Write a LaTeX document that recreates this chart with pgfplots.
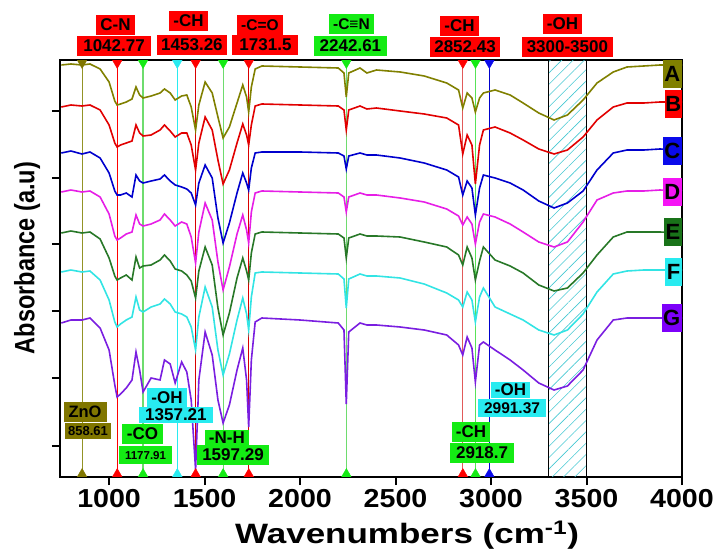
\documentclass[border=0pt]{standalone}
\usepackage{fontspec}
\setmainfont{Liberation Sans}
\usepackage{pgfplots}
\pgfplotsset{compat=1.18}
\usetikzlibrary{patterns.meta}
\definecolor{cA}{RGB}{128,128,0}
\definecolor{cB}{RGB}{225,0,0}
\definecolor{cC}{RGB}{0,0,205}
\definecolor{cD}{RGB}{230,30,230}
\definecolor{cE}{RGB}{40,120,40}
\definecolor{cF}{RGB}{50,228,228}
\definecolor{cG}{RGB}{122,30,224}
\definecolor{bOlive}{RGB}{128,118,0}
\definecolor{bRed}{RGB}{255,0,0}
\definecolor{bGreen}{RGB}{20,235,20}
\definecolor{bCyan}{RGB}{40,235,240}
\definecolor{bBlue}{RGB}{10,10,235}
\definecolor{bMag}{RGB}{245,20,245}
\definecolor{bDGreen}{RGB}{25,115,25}
\definecolor{bViolet}{RGB}{125,0,250}
\definecolor{lGreen}{RGB}{110,220,110}
\definecolor{lRed}{RGB}{225,90,90}
\definecolor{hatchc}{RGB}{70,200,210}
\begin{document}
\begin{tikzpicture}
\begin{axis}[
  scale only axis, width=622pt, height=417pt,
  xmin=743, xmax=4000, ymin=0, ymax=417,
  xtick={1000,1500,2000,2500,3000,3500,4000},
  ytick={31,99,166,233,299,366}, yticklabels={},
  tick align=outside, xtick pos=bottom, ytick pos=left,
  major tick length=8pt,
  axis line style={line width=2.2pt},
  every tick/.style={line width=2pt, black},
  clip=false,
  /pgf/number format/assume math mode=true,
  /pgf/number format/1000 sep={},
  xticklabel={\scalebox{1.1}[1]{\pgfmathprintnumber{\tick}}},
  xticklabel style={font=\bfseries\fontsize{26}{26}\selectfont, yshift=-1pt},
  xlabel={\bfseries\fontsize{28}{28}\selectfont\scalebox{1.25}[1]{Wavenumbers (cm\textsuperscript{-1})}},
  xlabel style={at={(axis description cs:0.558,-0.139)}, anchor=center},
  ylabel={\bfseries\fontsize{28}{28}\selectfont\scalebox{0.84}[1]{Absorbance (a.u)}},
  ylabel style={at={(axis description cs:-0.053,0.525)}, anchor=center, rotate=0},
]
% hatched OH region
\addplot[draw=black, line width=1pt, pattern={Lines[angle=45, distance=8pt, line width=0.6pt]}, pattern color=hatchc]
  coordinates {(3300,0) (3300,417) (3500,417) (3500,0)} \closedcycle;
% vertical marker lines
\addplot[cA!85!white, line width=0.9pt] coordinates {(858.61,0) (858.61,417)};
\addplot[bRed, line width=1.2pt] coordinates {(1042.77,0) (1042.77,417)};
\addplot[lGreen, line width=1.2pt] coordinates {(1177.91,0) (1177.91,417)};
\addplot[bCyan, line width=1.2pt] coordinates {(1357.21,0) (1357.21,417)};
\addplot[bRed!85!black, line width=1.2pt] coordinates {(1453.26,0) (1453.26,417)};
\addplot[lGreen, line width=1.2pt] coordinates {(1597.29,0) (1597.29,417)};
\addplot[bRed!85!black, line width=1.2pt] coordinates {(1731.5,0) (1731.5,417)};
\addplot[lGreen, line width=1.2pt] coordinates {(2242.61,0) (2242.61,417)};
\addplot[lRed, line width=1.2pt] coordinates {(2852.43,0) (2852.43,417)};
\addplot[lGreen!80!green, line width=1.2pt] coordinates {(2918.7,0) (2918.7,417)};
\addplot[cC, line width=1.2pt] coordinates {(2991.37,0) (2991.37,417)};
% spectra
\addplot[cA, line width=1.6pt] coordinates {
(750,412) (800,413) (858,412) (900,413) (953,408) (1000,395) (1030,376) (1042,372) (1060,373) (1090,375) (1120,378) (1141,390) (1160,382) (1178,379) (1220,381) (1267,384) (1290,388) (1320,384) (1346,377) (1380,381) (1407,382) (1430,370) (1453,347) (1470,372) (1503,395) (1540,384) (1570,360) (1597,339) (1630,350) (1670,374) (1700,392) (1720,380) (1731,365) (1745,390) (1765,408) (1800,411) (2000,410) (2200,409) (2230,404) (2242,380) (2255,404) (2314,409) (2350,404) (2400,407) (2524,405) (2650,401) (2768,394) (2830,387) (2852,369) (2875,384) (2900,379) (2918,365) (2940,379) (2960,384) (3021,387) (3100,382) (3168,374) (3250,364) (3330,357) (3400,362) (3482,377) (3555,394) (3640,405) (3712,410) (3800,411) (3885,412) (4000,412)};
\addplot[cB, line width=1.6pt] coordinates {
(750,370) (800,372) (858,371) (900,372) (953,367) (1000,352) (1030,334) (1042,330) (1060,332) (1090,334) (1120,336) (1141,352) (1160,344) (1178,341) (1220,342) (1267,347) (1290,352) (1320,346) (1346,340) (1380,344) (1407,344) (1430,332) (1453,307) (1470,334) (1503,360) (1540,347) (1570,317) (1597,293) (1630,307) (1670,334) (1700,353) (1720,342) (1731,332) (1745,352) (1765,371) (1800,373) (2000,372) (2200,371) (2230,367) (2242,347) (2255,367) (2314,371) (2350,368) (2400,369) (2524,366) (2650,363) (2768,359) (2830,352) (2852,323) (2875,342) (2900,332) (2918,293) (2940,332) (2960,347) (3021,350) (3100,344) (3168,337) (3250,328) (3330,323) (3400,327) (3482,340) (3555,357) (3640,370) (3712,374) (3800,374) (3885,375) (4000,375)};
\addplot[cC, line width=1.6pt] coordinates {
(750,324) (800,326) (858,323) (900,325) (953,319) (1000,304) (1030,286) (1042,282) (1060,282) (1090,284) (1120,280) (1141,302) (1160,296) (1178,294) (1220,296) (1267,298) (1290,302) (1320,296) (1346,292) (1380,290) (1407,288) (1430,284) (1453,272) (1470,294) (1503,312) (1540,299) (1570,259) (1597,234) (1630,254) (1670,284) (1700,304) (1720,294) (1731,287) (1745,309) (1765,324) (1800,325) (2000,325) (2200,324) (2230,321) (2242,308) (2255,321) (2314,324) (2350,322) (2400,322) (2524,319) (2650,314) (2768,307) (2830,300) (2852,282) (2875,296) (2900,289) (2918,262) (2940,289) (2960,302) (3021,299) (3100,294) (3168,287) (3250,276) (3330,269) (3400,274) (3482,286) (3555,307) (3640,324) (3712,327) (3800,327) (3885,328) (4000,327)};
\addplot[cD, line width=1.6pt] coordinates {
(750,285) (800,287) (858,285) (900,286) (953,280) (1000,263) (1030,241) (1042,237) (1060,239) (1090,243) (1120,245) (1141,262) (1160,253) (1178,251) (1220,253) (1267,257) (1290,263) (1320,257) (1346,251) (1380,255) (1407,253) (1430,240) (1453,214) (1470,245) (1503,274) (1540,257) (1570,215) (1597,187) (1630,210) (1670,243) (1700,262) (1720,247) (1731,234) (1745,265) (1765,284) (1800,286) (2000,285) (2200,284) (2230,280) (2242,265) (2255,280) (2314,284) (2350,282) (2400,282) (2524,279) (2650,275) (2768,268) (2830,261) (2852,252) (2875,260) (2900,253) (2918,233) (2940,255) (2960,263) (3021,260) (3100,253) (3168,245) (3250,235) (3330,230) (3400,235) (3482,255) (3555,277) (3640,284) (3712,286) (3800,286) (3885,287) (4000,286)};
\addplot[cE, line width=1.6pt] coordinates {
(750,244) (800,246) (858,244) (900,245) (953,238) (1000,219) (1030,201) (1042,197) (1060,199) (1090,202) (1120,197) (1141,220) (1160,209) (1178,211) (1220,212) (1267,217) (1290,222) (1320,216) (1346,208) (1380,206) (1407,202) (1430,196) (1453,179) (1470,206) (1503,230) (1540,212) (1570,169) (1597,142) (1630,164) (1670,199) (1700,219) (1720,206) (1731,197) (1745,224) (1765,243) (1800,245) (2000,244) (2200,243) (2230,239) (2242,219) (2255,239) (2314,243) (2350,241) (2400,241) (2524,240) (2650,235) (2768,230) (2830,222) (2852,212) (2875,230) (2900,219) (2918,197) (2940,216) (2960,230) (3021,217) (3100,211) (3168,204) (3250,192) (3330,186) (3400,189) (3482,204) (3555,222) (3640,240) (3712,245) (3800,245) (3885,245) (4000,244)};
\addplot[cF, line width=1.6pt] coordinates {
(750,205) (800,207) (858,205) (900,206) (953,197) (1000,177) (1030,155) (1042,150) (1060,153) (1090,157) (1120,160) (1141,180) (1160,167) (1178,165) (1220,170) (1267,173) (1290,178) (1320,173) (1346,165) (1380,163) (1407,160) (1430,150) (1453,127) (1470,160) (1503,190) (1540,170) (1570,127) (1597,102) (1630,123) (1670,157) (1700,179) (1720,163) (1731,147) (1745,180) (1765,204) (1800,205) (2000,204) (2200,203) (2230,198) (2242,169) (2255,198) (2314,203) (2350,201) (2400,201) (2524,199) (2650,193) (2768,184) (2830,177) (2852,170) (2875,185) (2900,177) (2918,155) (2940,180) (2960,189) (3021,170) (3100,163) (3168,157) (3250,147) (3330,142) (3400,147) (3482,163) (3555,185) (3640,203) (3712,206) (3800,207) (3885,207) (4000,207)};
\addplot[cG, line width=1.6pt] coordinates {
(750,154) (800,157) (858,157) (900,159) (953,149) (1000,127) (1030,92) (1042,80) (1060,83) (1090,89) (1120,97) (1141,125) (1160,107) (1178,85) (1220,99) (1267,97) (1290,117) (1320,113) (1346,94) (1380,115) (1407,105) (1430,77) (1453,7) (1470,97) (1503,145) (1540,122) (1570,77) (1597,54) (1630,72) (1670,107) (1700,129) (1720,97) (1731,50) (1745,117) (1765,155) (1800,159) (2000,157) (2200,154) (2230,147) (2242,73) (2255,145) (2314,154) (2350,152) (2400,152) (2524,150) (2650,147) (2768,142) (2830,132) (2852,122) (2875,140) (2900,129) (2918,95) (2940,132) (2960,135) (3021,127) (3100,117) (3168,107) (3250,94) (3330,87) (3400,91) (3482,107) (3555,137) (3640,157) (3712,159) (3800,159) (3885,159) (4000,159)};
% triangle markers, top (pointing down) and bottom (pointing up)
\pgfplotsset{tri/.style={only marks, mark=triangle*, mark size=5.5pt}}
\addplot[tri, bOlive, mark options={rotate=180}] coordinates {(858.61,414)};
\addplot[tri, bOlive] coordinates {(858.61,3)};
\addplot[tri, bRed, mark options={rotate=180}] coordinates {(1042.77,414) (1453.26,414) (1731.5,414) (2852.43,414)};
\addplot[tri, bRed] coordinates {(1042.77,3) (1453.26,3) (1731.5,3) (2852.43,3)};
\addplot[tri, bGreen, mark options={rotate=180}] coordinates {(1177.91,414) (1597.29,414) (2242.61,414) (2918.7,414)};
\addplot[tri, bGreen] coordinates {(1177.91,3) (1597.29,3) (2242.61,3) (2918.7,3)};
\addplot[tri, bCyan, mark options={rotate=180}] coordinates {(1357.21,414)};
\addplot[tri, bCyan] coordinates {(1357.21,3)};
\addplot[tri, bBlue, mark options={rotate=180}] coordinates {(2991.37,414)};
\addplot[tri, bBlue] coordinates {(2991.37,3)};
% label boxes
\tikzset{lab/.style={font=\bfseries\fontsize{17}{17}\selectfont, inner xsep=4pt, inner ysep=4pt, text height=12pt, text depth=0.5pt, anchor=center}}
% top
\node[lab, fill=bRed] at (axis cs:1034,452) {C-N};
\node[lab, fill=bRed, inner xsep=6pt] at (axis cs:1026,431) {1042.77};
\node[lab, fill=bRed] at (axis cs:1416,456) {-CH};
\node[lab, fill=bRed] at (axis cs:1434,432) {1453.26};
\node[lab, fill=bRed, font=\bfseries\fontsize{15.5}{15.5}\selectfont] at (axis cs:1790,452) {-C=O};
\node[lab, fill=bRed, inner xsep=7pt] at (axis cs:1819,432) {1731.5};
\node[lab, fill=bGreen, font=\bfseries\fontsize{15.5}{15.5}\selectfont] at (axis cs:2269,453) {-C≡N};
\node[lab, fill=bGreen, inner xsep=6pt] at (axis cs:2264,431) {2242.61};
\node[lab, fill=bRed] at (axis cs:2835,451) {-CH};
\node[lab, fill=bRed] at (axis cs:2864,430) {2852.43};
\node[lab, fill=bRed] at (axis cs:3374,453) {-OH};
\node[lab, fill=bRed, inner xsep=5pt] at (axis cs:3400,430) {3300-3500};
% bottom
\node[lab, fill=bOlive, font=\bfseries\fontsize{16.5}{16.5}\selectfont, inner xsep=5pt] at (axis cs:874,65) {ZnO};
\node[lab, fill=bOlive, font=\bfseries\fontsize{13}{13}\selectfont, text height=9.5pt, inner ysep=3pt, inner xsep=3pt] at (axis cs:890,46) {858.61};
\node[lab, fill=bCyan] at (axis cs:1303,79) {-OH};
\node[lab, fill=bCyan, inner xsep=6pt, inner ysep=2pt] at (axis cs:1350,62) {1357.21};
\node[lab, fill=bGreen, inner xsep=5pt] at (axis cs:1175,43) {-CO};
\node[lab, fill=bGreen, font=\bfseries\fontsize{11.5}{11.5}\selectfont, text height=9pt, inner xsep=6pt, inner ysep=4pt] at (axis cs:1191,22) {1177.91};
\node[lab, fill=bGreen, inner ysep=2pt] at (axis cs:1617,39) {-N-H};
\node[lab, fill=bGreen, inner xsep=5pt] at (axis cs:1649,22) {1597.29};
\node[lab, fill=bCyan, inner ysep=2pt] at (axis cs:3102,87) {-OH};
\node[lab, fill=bCyan, font=\bfseries\fontsize{15.5}{15.5}\selectfont, inner xsep=6pt, inner ysep=3pt] at (axis cs:3110,69) {2991.37};
\node[lab, fill=bGreen] at (axis cs:2895,45) {-CH};
\node[lab, fill=bGreen, inner xsep=6pt] at (axis cs:2953,24) {2918.7};
% sample letters
\tikzset{let/.style={font=\bfseries\fontsize{22}{22}\selectfont, inner xsep=1.5pt, inner ysep=6pt, text height=16pt, text depth=0pt, anchor=east}}
\node[let, fill=cA] at (axis cs:4000,403) {A};
\node[let, fill=bRed, inner xsep=0.5pt] at (axis cs:4000,373) {B};
\node[let, fill=bBlue] at (axis cs:4000,326) {C};
\node[let, fill=bMag] at (axis cs:4000,285) {D};
\node[let, fill=bDGreen] at (axis cs:4000,245) {E};
\node[let, fill=bCyan] at (axis cs:4000,205) {F};
\node[let, fill=bViolet] at (axis cs:4000,159) {G};
\end{axis}
\pgfresetboundingbox
\path[use as bounding box] ([shift={(-60pt,-77pt)}]current axis.south west) rectangle ++(717pt,554pt);
\end{tikzpicture}
\end{document}
